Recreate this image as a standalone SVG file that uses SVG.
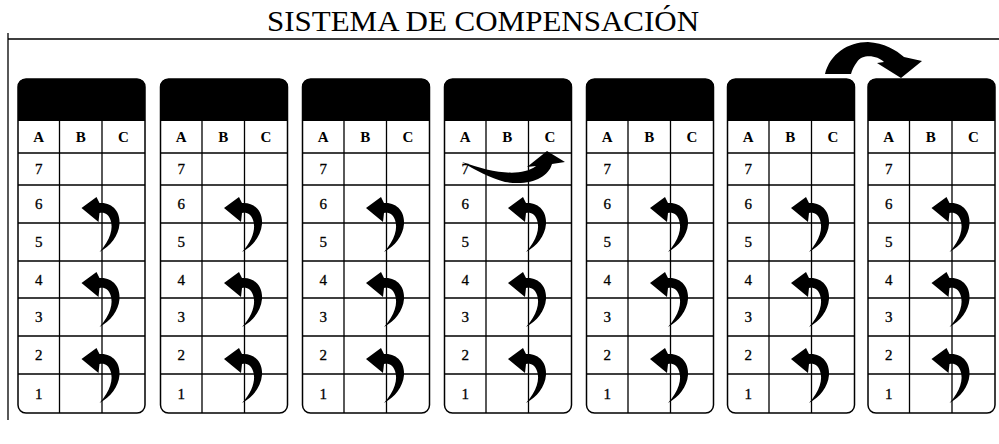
<svg xmlns="http://www.w3.org/2000/svg" xmlns:xlink="http://www.w3.org/1999/xlink" width="999" height="444" viewBox="0 0 999 444">
<style>
.frame{fill:none;stroke:#000;stroke-width:1.5}
.hdr{fill:#000}
.ln{stroke:#000;stroke-width:1.3;fill:none}
.col{font-family:"Liberation Serif","Times New Roman",serif;font-size:15px;font-weight:bold;text-anchor:middle;fill:#000}
.num{font-family:"Liberation Serif","Times New Roman",serif;font-size:15px;text-anchor:middle;fill:#000;stroke:#000;stroke-width:0.3}
.title{font-family:"Liberation Serif","Times New Roman",serif;font-size:30px;text-anchor:middle;fill:#000}
.arr{fill:#000}
</style>
<defs>
<path id="curl" d="M -3 29 C 8 17, 11 5, 8 -3 C 6 -9, 2 -11, -3 -10 L -4 -1 L -21 -15 L -6 -26 L -3 -20 C 10 -21, 18 -11, 17 1 C 16 13, 8 23, -3 29 Z"/>
<g id="table">
<path class="hdr" d="M0,121 V87 Q0,79 8,79 H119 Q127,79 127,87 V121 Z"/>
<rect class="frame" x="0" y="79" width="127" height="334" rx="8"/>
<path class="ln" d="M0,153 H127 M0,185 H127 M0,223 H127 M0,261 H127 M0,298 H127 M0,336 H127 M0,374 H127 M41.5,121 V413 M84,121 V413"/>
<text class="col" x="20.75" y="142">A</text>
<text class="col" x="62.75" y="142">B</text>
<text class="col" x="105.5" y="142">C</text>
<text class="num" x="20.75" y="174">7</text>
<text class="num" x="20.75" y="209">6</text>
<text class="num" x="20.75" y="247">5</text>
<text class="num" x="20.75" y="284.5">4</text>
<text class="num" x="20.75" y="322">3</text>
<text class="num" x="20.75" y="360">2</text>
<text class="num" x="20.75" y="398.5">1</text>
</g>
</defs>
<text class="title" x="483" y="31" textLength="432" lengthAdjust="spacingAndGlyphs">SISTEMA DE COMPENSACIÓN</text>
<path class="ln" d="M8,39 H999 M8,33 V420" stroke-width="1.5"/>
<g id="panel-1"><use xlink:href="#table" transform="translate(18,0)"/></g>
<g id="panel-2"><use xlink:href="#table" transform="translate(160.5,0)"/></g>
<g id="panel-3"><use xlink:href="#table" transform="translate(302.5,0)"/></g>
<g id="panel-4"><use xlink:href="#table" transform="translate(444.5,0)"/></g>
<g id="panel-5"><use xlink:href="#table" transform="translate(586.5,0)"/></g>
<g id="panel-6"><use xlink:href="#table" transform="translate(727.5,0)"/></g>
<g id="panel-7"><use xlink:href="#table" transform="translate(868,0)"/></g>
<g id="connectors" class="arr">
<use xlink:href="#curl" x="102.5" y="223"/><use xlink:href="#curl" x="102.5" y="298"/><use xlink:href="#curl" x="102.5" y="374"/>
<use xlink:href="#curl" x="245" y="223"/><use xlink:href="#curl" x="245" y="298"/><use xlink:href="#curl" x="245" y="374"/>
<use xlink:href="#curl" x="387" y="223"/><use xlink:href="#curl" x="387" y="298"/><use xlink:href="#curl" x="387" y="374"/>
<use xlink:href="#curl" x="529" y="223"/><use xlink:href="#curl" x="529" y="298"/><use xlink:href="#curl" x="529" y="374"/>
<use xlink:href="#curl" x="671" y="223"/><use xlink:href="#curl" x="671" y="298"/><use xlink:href="#curl" x="671" y="374"/>
<use xlink:href="#curl" x="812" y="223"/><use xlink:href="#curl" x="812" y="298"/><use xlink:href="#curl" x="812" y="374"/>
<use xlink:href="#curl" x="952.5" y="223"/><use xlink:href="#curl" x="952.5" y="298"/><use xlink:href="#curl" x="952.5" y="374"/>
<path d="M 462 162 C 490 172, 520 178, 536 166 L 527 167 L 547 151 L 565 162 L 552 164 C 548 178, 530 186, 505 182 C 490 178, 475 170, 462 162 Z"/>
<path d="M 825 74 C 830 54, 848 42, 868 42 C 884 43, 896 50, 904 57 L 922 61 L 901 78 L 877 63 L 884 62 C 878 56, 863 53, 857 62 C 854 66, 852 70, 851 74 Z"/>
</g>
</svg>
